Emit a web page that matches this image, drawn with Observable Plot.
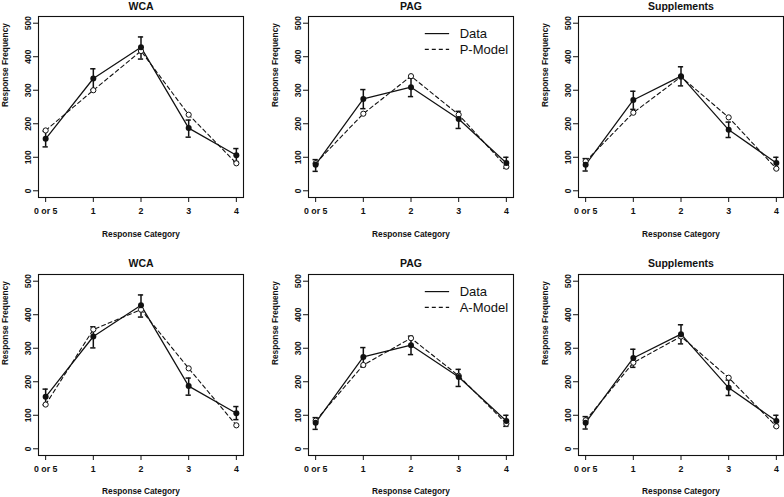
<!DOCTYPE html>
<html>
<head>
<meta charset="utf-8">
<script src="https://cdn.jsdelivr.net/npm/d3@7"></script>
<script src="https://cdn.jsdelivr.net/npm/@observablehq/plot@0.6"></script>
<style>
  html, body { margin: 0; padding: 0; background: #fff; }
  #chart { position: relative; width: 784px; height: 497px; background: #fff; overflow: hidden; }
  #chart > .cell { position: absolute; }
</style>
</head>
<body>
<div id="chart"></div>
<script>
// ---- data ----
const categories = ["0 or 5", "1", "2", "3", "4"];
const panelTitles = ["WCA", "PAG", "Supplements"];
const yTicks = [0, 100, 200, 300, 400, 500];

// observed data with error bar ends
const wcaData = [155, 335, 428, 187, 106];
const wcaLow  = [131, 301, 393, 160, 87];
const wcaHigh = [178, 364, 459, 211, 126];
const pagData = [78, 274, 309, 214, 83];
const pagLow  = [58, 245, 281, 186, 67];
const pagHigh = [93, 302, 336, 237, 100];
const suppData = [78, 271, 342, 182, 83];
const suppLow  = [59, 243, 313, 159, 66];
const suppHigh = [96, 297, 370, 205, 100];

// P-Model predictions (top row)
const wcaP  = [180, 300, 417, 227, 82];
const pagP  = [82, 230, 342, 227, 72];
const suppP = [88, 233, 340, 219, 66];

// A-Model predictions (bottom row)
const wcaA  = [132, 356, 415, 240, 70];
const pagA  = [84, 250, 330, 218, 75];
const suppA = [85, 257, 335, 212, 67];

const legendTop = ["Data", "P-Model"];
const legendBottom = ["Data", "A-Model"];

// ---- drawing ----
const INK = "#111";
const DASH = "4,3";
const CAP = 0.055;

function panel({title, data, low, high, model, legend, width, height, ml, mr, mt, mb, titleDy, xTitleDy}) {
  const rows = categories.map((c, i) => ({i, c, d: data[i], lo: low[i], hi: high[i], m: model[i]}));
  const marks = [
    Plot.frame({stroke: INK, strokeWidth: 1.1}),
    Plot.axisX({ticks: [0, 1, 2, 3, 4], tickFormat: i => categories[i], tickSize: 5, tickPadding: 5, label: null, fontSize: 8.8}),
    Plot.axisY({ticks: yTicks, tickSize: 5, tickRotate: -90, tickPadding: 3, label: null, fontSize: 8.5}),
    Plot.line(rows, {x: "i", y: "m", stroke: INK, strokeWidth: 1.1, strokeDasharray: DASH}),
    Plot.line(rows, {x: "i", y: "d", stroke: INK, strokeWidth: 1.25}),
    Plot.ruleX(rows, {x: "i", y1: "lo", y2: "hi", stroke: INK, strokeWidth: 1.5}),
    Plot.ruleY(rows, {y: "lo", x1: d => d.i - CAP, x2: d => d.i + CAP, stroke: INK, strokeWidth: 1.5}),
    Plot.ruleY(rows, {y: "hi", x1: d => d.i - CAP, x2: d => d.i + CAP, stroke: INK, strokeWidth: 1.5}),
    Plot.dot(rows, {x: "i", y: "m", r: 2.6, fill: "white", stroke: INK, strokeWidth: 1}),
    Plot.dot(rows, {x: "i", y: "d", r: 3, fill: INK, stroke: "none"}),
    Plot.text([title], {text: d => d, frameAnchor: "top", dy: titleDy, fontSize: 10.5, fontWeight: "bold", lineAnchor: "middle", fill: INK}),
    Plot.text(["Response Category"], {text: d => d, frameAnchor: "bottom", dy: xTitleDy, lineAnchor: "middle", fill: INK}),
    Plot.text(["Response Frequency"], {text: d => d, frameAnchor: "left", dx: -33, rotate: -90, lineAnchor: "middle", fill: INK})
  ];
  if (legend) {
    const leg = legend.map((label, k) => ({label, k, yy: k === 0 ? 469 : 422}));
    marks.push(
      Plot.ruleY(leg.filter(d => d.k === 0), {y: "yy", x1: 2.30, x2: 2.81, stroke: INK, strokeWidth: 1.2}),
      Plot.ruleY(leg.filter(d => d.k === 1), {y: "yy", x1: 2.30, x2: 2.81, stroke: INK, strokeWidth: 1.1, strokeDasharray: DASH}),
      Plot.text(leg, {x: () => 3.02, y: "yy", text: "label", textAnchor: "start", lineAnchor: "middle", fontSize: 13, fontWeight: "normal", fill: INK})
    );
  }
  return Plot.plot({
    width, height,
    marginLeft: ml, marginRight: mr, marginTop: mt, marginBottom: mb,
    x: {type: "linear", domain: [-0.15, 4.15]},
    y: {type: "linear", domain: [-20, 520]},
    style: {
      fontFamily: "'Liberation Sans', Arial, Helvetica, sans-serif",
      fontSize: "8.3px",
      fontWeight: "bold",
      color: INK,
      background: "white",
      overflow: "visible"
    },
    marks
  });
}

const cols = [
  {x: 0, width: 262, ml: 38, mr: 19},
  {x: 262, width: 262, ml: 46, mr: 11},
  {x: 524, width: 260, ml: 54, mr: 1}
];
const rowsLayout = [
  {y: 0, height: 250, mt: 16, mb: 53, titleDy: -10, xTitleDy: 37},
  {y: 250, height: 247, mt: 24, mb: 42, titleDy: -11, xTitleDy: 36}
];

const seriesTop = [
  {data: wcaData, low: wcaLow, high: wcaHigh, model: wcaP},
  {data: pagData, low: pagLow, high: pagHigh, model: pagP, legend: legendTop},
  {data: suppData, low: suppLow, high: suppHigh, model: suppP}
];
const seriesBottom = [
  {data: wcaData, low: wcaLow, high: wcaHigh, model: wcaA},
  {data: pagData, low: pagLow, high: pagHigh, model: pagA, legend: legendBottom},
  {data: suppData, low: suppLow, high: suppHigh, model: suppA}
];

const root = document.getElementById("chart");
[seriesTop, seriesBottom].forEach((series, r) => {
  const R = rowsLayout[r];
  series.forEach((s, c) => {
    const C = cols[c];
    const svg = panel({
      title: panelTitles[c], ...s,
      width: C.width, height: R.height,
      ml: C.ml, mr: C.mr, mt: R.mt, mb: R.mb,
      titleDy: R.titleDy, xTitleDy: R.xTitleDy
    });
    const cell = document.createElement("div");
    cell.className = "cell";
    cell.style.left = C.x + "px";
    cell.style.top = R.y + "px";
    cell.appendChild(svg);
    root.appendChild(cell);
  });
});
</script>
</body>
</html>
